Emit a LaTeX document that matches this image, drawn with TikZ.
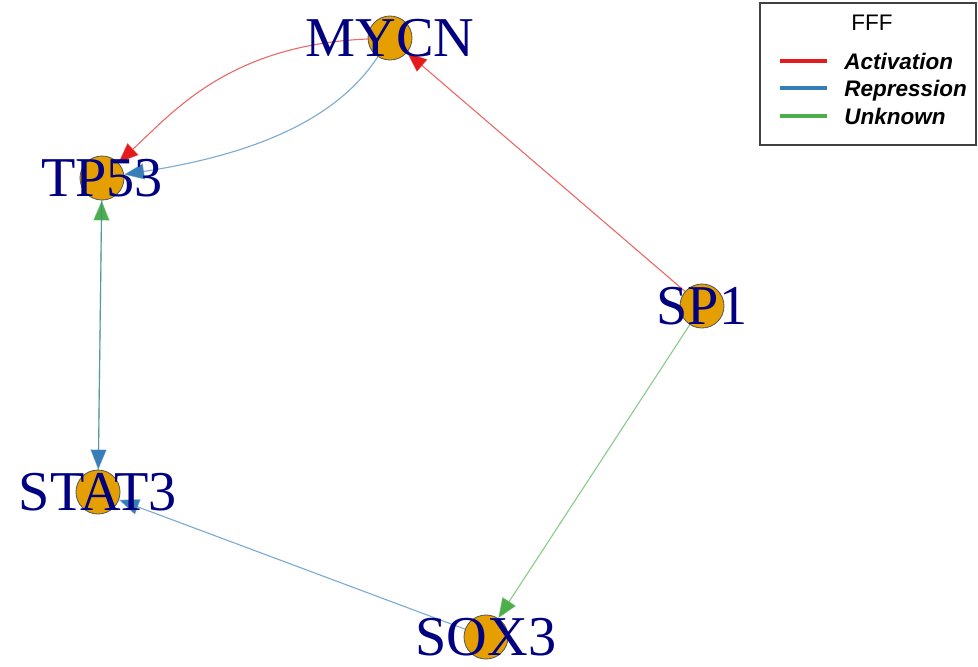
\documentclass[tikz,border=0pt]{standalone}
\usepackage{fontspec}
\setmainfont{Liberation Serif}
\newfontfamily\legendfont{Liberation Sans}
\usetikzlibrary{arrows.meta,backgrounds}

\definecolor{actred}{HTML}{E41A1C}
\definecolor{repblue}{HTML}{377EB8}
\definecolor{unkgreen}{HTML}{4DAF4A}
\definecolor{genefill}{HTML}{E69F00}
\definecolor{genetext}{HTML}{000080}

\tikzset{
  gene/.style={circle, draw=black!65, fill=genefill, line width=0.6pt, minimum size=1.1cm, inner sep=0pt},
  genename/.style={text=genetext, font=\fontsize{40}{40}\selectfont, inner sep=0pt},
  edge/.style={line width=0.8pt, draw opacity=0.65, -{Triangle[length=0.5cm,width=0.4cm]}},
  act/.style={edge, actred},
  rep/.style={edge, repblue},
  unk/.style={edge, unkgreen},
  legendtext/.style={font=\legendfont\fontsize{16}{16}\selectfont, inner sep=0pt}
}

\begin{document}
\begin{tikzpicture}[x=0.025cm, y=-0.025cm]
    \useasboundingbox (0,0) rectangle (978,666);

    % Genes
    \node[gene] (MYCN) at (390,38) {};
    \node[gene] (TP53) at (102,178) {};
    \node[gene] (SP1) at (702,306) {};
    \node[gene] (STAT3) at (98,492) {};
    \node[gene] (SOX3) at (486,637) {};

    % Gene names over the circles
    \node[genename] (MYCNname) at (MYCN) {MYCN};
    \node[genename] (TP53name) at (TP53) {TP53};
    \node[genename] (SP1name) at (SP1) {SP1};
    \node[genename] (STAT3name) at (STAT3) {STAT3};
    \node[genename] (SOX3name) at (SOX3) {SOX3};

    % Interactions, behind the genes
    \begin{scope}[on background layer]
        \draw[act] (SP1) -- (MYCN);
        \draw[unk] (SP1) -- (SOX3);
        \draw[act] (MYCN) .. controls (230,45) and (175,110) .. (TP53);
        \draw[rep] (MYCN) .. controls (330,130) and (230,158) .. (TP53);
        \draw[unk] (STAT3) -- (TP53);
        \draw[rep] (TP53) -- (STAT3);
        \draw[rep] (SOX3) -- (STAT3);
    \end{scope}

    % Legend
    \draw[black!75, line width=0.8pt, fill=white] (760,3) rectangle (976,145);
    \node[legendtext] (legtitle) at (872,23) {FFF};
    \foreach \y/\col/\txt in {61/actred/Activation, 88/repblue/Repression, 116/unkgreen/Unknown} {
        \draw[\col, line width=2.5pt] (780,\y) -- (827,\y);
        \node[legendtext, anchor=base west, font=\legendfont\fontsize{16}{16}\selectfont\bfseries\itshape] (leg\txt) at (844,\y+8.5) {\txt};
    }
\end{tikzpicture}
\end{document}
